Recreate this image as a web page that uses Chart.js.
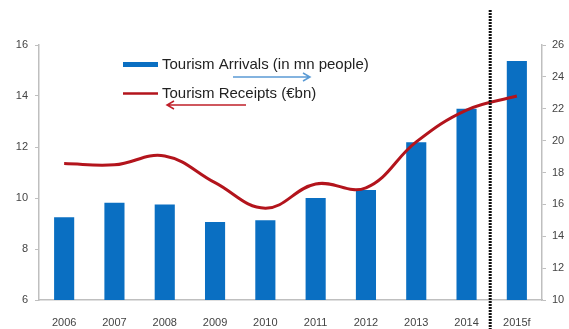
<!DOCTYPE html>
<html>
<head>
<meta charset="utf-8">
<script src="https://cdn.jsdelivr.net/npm/chart.js@4.4.1/dist/chart.umd.min.js"></script>
<style>
  html, body { margin: 0; padding: 0; background: #fff; }
  #wrap { position: relative; width: 569px; height: 329px; }
</style>
</head>
<body>
<div id="wrap"><canvas id="tourism"></canvas></div>
<script>
const years = ["2006", "2007", "2008", "2009", "2010", "2011", "2012", "2013", "2014", "2015f"];
// arrivals in mn people (right axis), receipts in EUR bn (left axis)
const arrivals = [15.2, 16.1, 16.0, 14.9, 15.0, 16.4, 16.9, 19.9, 22.0, 25.0];
const receipts = [11.35, 11.3, 11.65, 10.6, 9.6, 10.55, 10.4, 12.2, 13.45, 14.0];
const receiptTicks = [6, 8, 10, 12, 14, 16];
const arrivalTicks = [10, 12, 14, 16, 18, 20, 22, 24, 26];

const BLUE = "#0a6fc2";
const RED = "#b3141c";
const AXIS = "#bfbfbf";
const LABEL = "#444";
const FONT = "Arial, 'Liberation Sans', sans-serif";

// legend entries with the arrows pointing at the axis each series uses
const legendPlugin = {
  id: "legendArrows",
  afterDraw(chart) {
    const ctx = chart.ctx;
    ctx.save();
    ctx.fillStyle = BLUE;
    ctx.fillRect(123, 62, 35, 5);
    ctx.strokeStyle = RED;
    ctx.lineWidth = 2.5;
    ctx.beginPath();
    ctx.moveTo(123, 93.5);
    ctx.lineTo(158, 93.5);
    ctx.stroke();

    ctx.fillStyle = "#222";
    ctx.font = `15px ${FONT}`;
    ctx.textBaseline = "middle";
    ctx.fillText("Tourism Arrivals (in mn people)", 162, 65);
    ctx.fillText("Tourism Receipts (€bn)", 162, 94);

    ctx.lineWidth = 1.5;
    ctx.strokeStyle = "#5b9bd5";
    ctx.beginPath();
    ctx.moveTo(233, 77);
    ctx.lineTo(310, 77);
    ctx.moveTo(303, 73);
    ctx.lineTo(310, 77);
    ctx.lineTo(303, 81);
    ctx.stroke();

    ctx.strokeStyle = "#c0202a";
    ctx.beginPath();
    ctx.moveTo(246, 105);
    ctx.lineTo(167, 105);
    ctx.moveTo(174, 101);
    ctx.lineTo(167, 105);
    ctx.lineTo(174, 109);
    ctx.stroke();

    // forecast separator between 2014 and 2015f
    const x = chart.scales.x.getPixelForValue(8.5) - 1.5;
    ctx.strokeStyle = "#111";
    ctx.lineWidth = 3;
    ctx.setLineDash([2, 1]);
    ctx.beginPath();
    ctx.moveTo(x, 10);
    ctx.lineTo(x, 329);
    ctx.stroke();
    ctx.restore();
  },
};

new Chart(document.getElementById("tourism"), {
  type: "bar",
  data: {
    labels: years,
    datasets: [
      {
        type: "line",
        label: "Tourism Receipts (€bn)",
        data: receipts,
        yAxisID: "yReceipts",
        borderColor: RED,
        borderWidth: 3,
        tension: 0.4,
        pointRadius: 0,
        order: 1,
      },
      {
        label: "Tourism Arrivals (in mn people)",
        data: arrivals,
        yAxisID: "yArrivals",
        backgroundColor: BLUE,
        categoryPercentage: 1,
        barPercentage: 0.4,
        order: 2,
      },
    ],
  },
  options: {
    responsive: true,
    maintainAspectRatio: false,
    animation: false,
    layout: { padding: { top: 45, left: 0, right: 0, bottom: 0 } },
    plugins: { legend: { display: false }, tooltip: { enabled: false } },
    scales: {
      x: {
        grid: { display: false },
        border: { color: AXIS, width: 1.5 },
        ticks: { color: LABEL, font: { family: FONT, size: 11 }, padding: 8, maxRotation: 0 },
        afterFit(scale) { scale.height = 29; },
      },
      yReceipts: {
        position: "left",
        min: 6,
        max: 16,
        afterBuildTicks(scale) { scale.ticks = receiptTicks.map((v) => ({ value: v })); },
        grid: { drawOnChartArea: false, tickLength: 4, color: AXIS },
        border: { color: AXIS, width: 1.5 },
        ticks: { color: LABEL, font: { family: FONT, size: 11 }, padding: 7 },
        afterFit(scale) { scale.width = 39; },
      },
      yArrivals: {
        position: "right",
        min: 10,
        max: 26,
        afterBuildTicks(scale) { scale.ticks = arrivalTicks.map((v) => ({ value: v })); },
        grid: { drawOnChartArea: false, tickLength: 4, color: AXIS },
        border: { color: AXIS, width: 1.5 },
        ticks: { color: LABEL, font: { family: FONT, size: 11 }, padding: 6 },
        afterFit(scale) { scale.width = 27; },
      },
    },
  },
  plugins: [legendPlugin],
});
</script>
</body>
</html>
